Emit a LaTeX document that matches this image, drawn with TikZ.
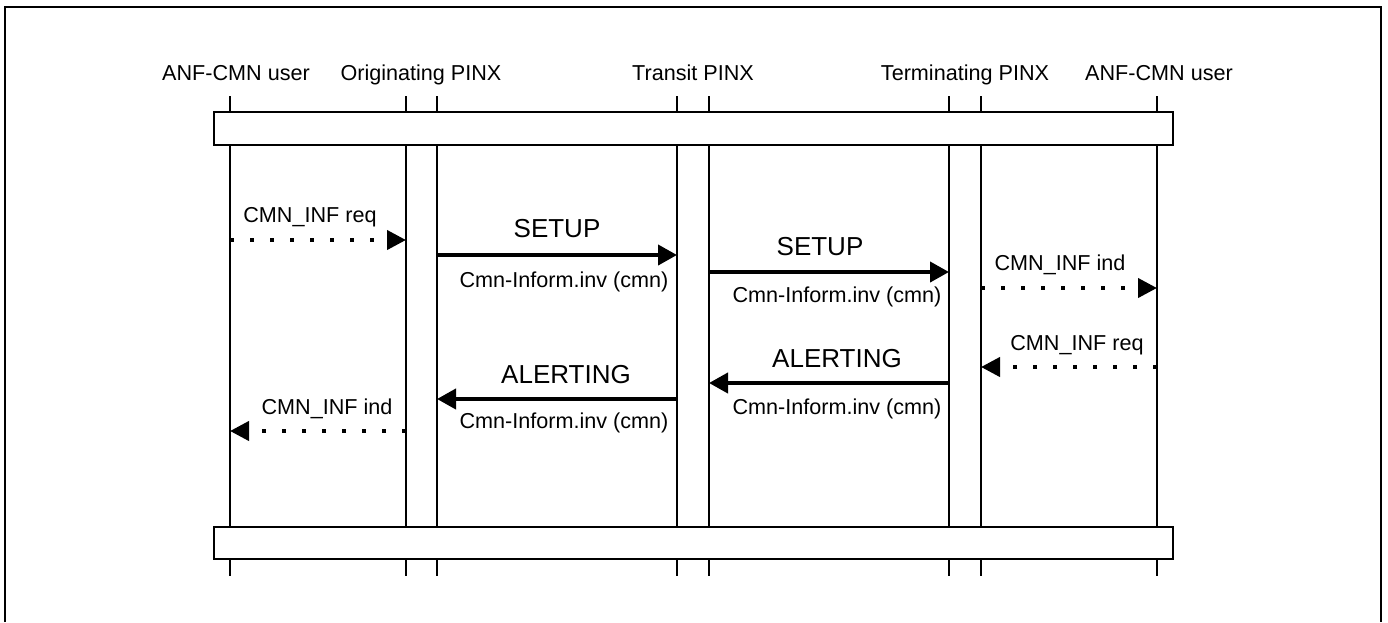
\documentclass[tikz,border=0pt]{standalone}
\usepackage{fontspec}
\setmainfont{Liberation Sans}
\usetikzlibrary{arrows.meta}

\begin{document}
\begin{tikzpicture}[x=0.5pt,y=-0.5pt,
  life/.style={line width=1pt},
  msg/.style={line width=2pt,-{Triangle[length=9.5pt,width=10pt]}},
  prim/.style={line width=2pt,dash pattern=on 2pt off 8pt,-{Triangle[length=9.5pt,width=9.5pt]}},
  lbl/.style={font=\fontsize{10.8}{12}\selectfont,inner sep=0pt},
  biglbl/.style={font=\fontsize{13}{15}\selectfont,inner sep=0pt}]
\useasboundingbox (0,0) rectangle (1388,622);
\draw[life] (5,622)--(5,7)--(1381,7)--(1381,622);

% lifelines
\coordinate (UA) at (230,96);
\coordinate (OA) at (406,96);
\coordinate (OB) at (437,96);
\coordinate (TA) at (677,96);
\coordinate (TB) at (709,96);
\coordinate (EA) at (949,96);
\coordinate (EB) at (981,96);
\coordinate (UB) at (1157,96);
\draw[life] (UA) -- (UA |- 0,576);
\draw[life] (OA) -- (OA |- 0,576);
\draw[life] (OB) -- (OB |- 0,576);
\draw[life] (TA) -- (TA |- 0,576);
\draw[life] (TB) -- (TB |- 0,576);
\draw[life] (EA) -- (EA |- 0,576);
\draw[life] (EB) -- (EB |- 0,576);
\draw[life] (UB) -- (UB |- 0,576);
\draw[life,fill=white] (214,112) rectangle (1173,145);
\draw[life,fill=white] (214,527) rectangle (1173,559);

% entity names
\node[lbl,anchor=base] (userl) at (236,80) {ANF-CMN user};
\node[lbl,anchor=base] (orig) at (421,80) {Originating PINX};
\node[lbl,anchor=base] (trans) at (693,80) {Transit PINX};
\node[lbl,anchor=base] (term) at (965,80) {Terminating PINX};
\node[lbl,anchor=base] (userr) at (1159,80) {ANF-CMN user};

% messages
\draw[prim] (UA |- 0,240) -- (OA |- 0,240);
\node[lbl] (reqa) at (310,217) {CMN\_INF req};
\draw[msg] (OB |- 0,255) -- (TA |- 0,255);
\node[biglbl] (setupa) at (557,229) {SETUP};
\node[lbl] (cmna) at (564,282) {Cmn-Inform.inv (cmn)};
\draw[msg] (TB |- 0,272) -- (EA |- 0,272);
\node[biglbl] (setupb) at (820,247) {SETUP};
\node[lbl] (cmnb) at (837,297) {Cmn-Inform.inv (cmn)};
\draw[prim] (EB |- 0,288) -- (UB |- 0,288);
\node[lbl] (inda) at (1060,265) {CMN\_INF ind};
\draw[prim] (UB |- 0,367) -- (EB |- 0,367);
\node[lbl] (reqb) at (1077,345) {CMN\_INF req};
\draw[msg] (EA |- 0,383) -- (TB |- 0,383);
\node[biglbl] (alertb) at (837,359) {ALERTING};
\node[lbl] (cmnc) at (837,409) {Cmn-Inform.inv (cmn)};
\draw[msg] (TA |- 0,399) -- (OB |- 0,399);
\node[biglbl] (alerta) at (566,375) {ALERTING};
\node[lbl] (cmnd) at (564,423) {Cmn-Inform.inv (cmn)};
\draw[prim] (OA |- 0,431) -- (UA |- 0,431);
\node[lbl] (indb) at (327,409) {CMN\_INF ind};
\end{tikzpicture}
\end{document}
